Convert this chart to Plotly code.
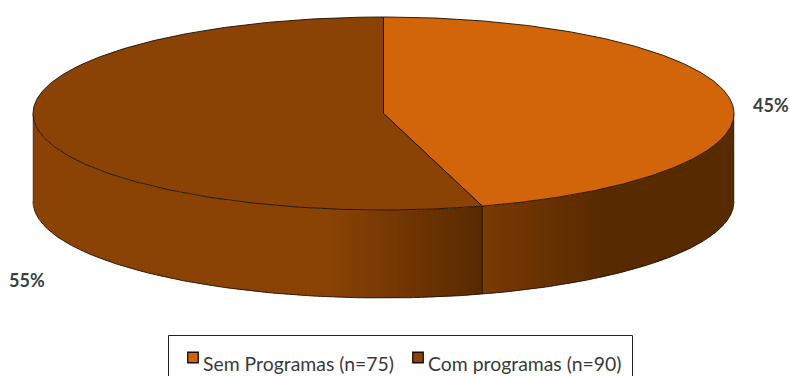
import numpy as np
import plotly.graph_objects as go

categories = ["Sem Programas (n=75)", "Com programas (n=90)"]
counts = [75, 90]
pct_labels = ["45%", "55%"]
top_colors = ["#D2640A", "#8A4205"]

W, H = 790, 376
CX, CY, RX, RY, DEPTH = 383.5, 113.5, 350.5, 96.5, 88
EDGE = "#1A0D00"


def pt(a):
    return CX + RX * np.sin(a), CY - RY * np.cos(a)


def mix(c1, c2, t):
    t = max(0.0, min(1.0, t))
    return "rgb(%d,%d,%d)" % tuple(round(a + (b - a) * t) for a, b in zip(c1, c2))


LIGHT = (138, 66, 5)
DARK = (88, 42, 0)
MID = (122, 58, 4)


def side_color(i, x):
    if i == 0:
        return mix(MID, DARK, (x - 483) / 120)
    return mix(LIGHT, DARK, (x - 330) / 153 if x > 330 else 0)


fig = go.Figure()
total = sum(counts)
ang = np.cumsum([0] + counts) / total * 2 * np.pi
GAP = ang[1]
GAP_X = pt(GAP)[0]

# Side wall: strips of equal width along the front half of the ellipse
for i, xa, xb in ((1, CX - RX, GAP_X), (0, GAP_X, CX + RX)):
    n = int((xb - xa) / 4)
    xs = np.linspace(xa, xb, n + 1)
    for k in range(n):
        xx = np.linspace(xs[k], min(xs[k + 1] + 1.5, xb), 5)
        yy = CY + RY * np.sqrt(np.clip(1 - ((xx - CX) / RX) ** 2, 0, 1))
        fig.add_trace(go.Scatter(
            x=np.r_[xx, xx[::-1]], y=np.r_[yy, yy[::-1] + DEPTH],
            mode="lines", fill="toself", line=dict(width=0),
            fillcolor=side_color(i, xx.mean()), hoverinfo="skip", showlegend=False))

# Outline of the side wall
a = np.linspace(np.pi / 2, 3 * np.pi / 2, 240)
x, y = pt(a)
fig.add_trace(go.Scatter(x=x, y=y + DEPTH, mode="lines", line=dict(color=EDGE, width=0.8),
                         hoverinfo="skip", showlegend=False))
for v in (np.pi / 2, 3 * np.pi / 2, GAP):
    x0, y0 = pt(v)
    fig.add_trace(go.Scatter(x=[x0, x0], y=[y0, y0 + DEPTH], mode="lines",
                             line=dict(color=EDGE, width=1 if v == GAP else 0.4),
                             hoverinfo="skip", showlegend=False))

# Top slices
for i in range(2):
    a = np.linspace(ang[i], ang[i + 1], 300)
    x, y = pt(a)
    fig.add_trace(go.Scatter(
        x=np.r_[CX, x, CX], y=np.r_[CY, y, CY], mode="lines", fill="toself",
        fillcolor=top_colors[i], line=dict(color=EDGE, width=0.9),
        name=categories[i], hoverinfo="name", showlegend=False))

# Legend frame and swatches
fig.add_shape(type="rect", x0=168.5, x1=632.5, y0=335.5, y1=380,
              line=dict(color="#222222", width=1), fillcolor="white", layer="below")
fig.add_trace(go.Scatter(
    x=[193, 418], y=[357.5, 357.5], mode="markers",
    marker=dict(symbol="square", size=10.5, color=top_colors,
                line=dict(color="#1A0C00", width=1.3)),
    hoverinfo="skip", showlegend=False))

FONT = "Lato, Liberation Sans, sans-serif"
for lx, txt in zip((201, 425.5), categories):
    fig.add_annotation(x=lx, y=363, text=txt, showarrow=False, xanchor="left", yanchor="middle",
                       font=dict(family=FONT, size=19.4, color="#3A3A3A"))
for lx, ly, txt in zip((771, 27), (104.5, 279.5), pct_labels):
    fig.add_annotation(x=lx, y=ly, text="<b>%s</b>" % txt, showarrow=False,
                       font=dict(family=FONT, size=18, color="#3A3F44"))

fig.update_layout(
    width=W, height=H, margin=dict(l=0, r=0, t=0, b=0),
    paper_bgcolor="white", plot_bgcolor="white", showlegend=False,
    xaxis=dict(range=[0, W], visible=False, fixedrange=True),
    yaxis=dict(range=[H, 0], visible=False, fixedrange=True),
)
fig.write_html("out.html", config={"displayModeBar": False},
               post_script="document.body.style.margin='0';document.body.style.overflow='hidden';")
